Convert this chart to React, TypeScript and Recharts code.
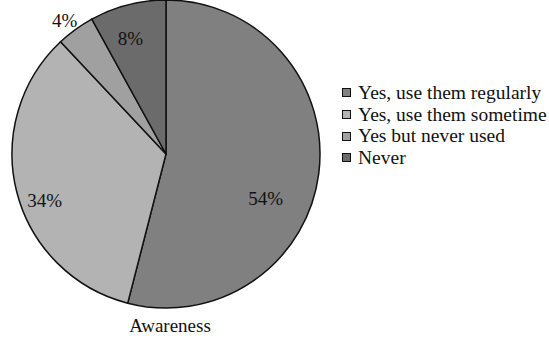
import React from "react";
import { PieChart, Pie, Cell, Legend } from "recharts";

const categories = ["Yes, use them regularly", "Yes, use them sometime", "Yes but never used", "Never"];
const values = [54, 34, 4, 8];
const colors = ["#808080", "#b3b3b3", "#a0a0a0", "#6b6b6b"];
const title = "Awareness";

const data = categories.map((name, i) => ({ name, value: values[i] }));

const labelRadius = [0.707, 0.845, 1.086, 0.784];
const labelAngleShift = [-16.7, 6.7, 1.3, 2.7];
const FONT = '"Liberation Serif", "Times New Roman", serif';

const RADIAN = Math.PI / 180;
const renderLabel = (props: any) => {
  const { cx, cy, midAngle, outerRadius, index, value } = props;
  const a = (midAngle + labelAngleShift[index]) * RADIAN;
  const r = outerRadius * labelRadius[index];
  const x = cx + r * Math.cos(a);
  const y = cy - r * Math.sin(a);
  return (
    <text
      x={x}
      y={y}
      textAnchor="middle"
      dominantBaseline="central"
      fill="#111"
      fontSize={19}
      fontFamily={FONT}
    >
      {`${value}%`}
    </text>
  );
};

const LegendContent = () => (
  <div style={{ fontFamily: FONT, fontSize: 19.5, color: "#111", whiteSpace: "nowrap" }}>
    {data.map((d, i) => (
      <div key={d.name} style={{ display: "flex", alignItems: "center", height: 21.7 }}>
        <span
          style={{
            display: "inline-block",
            flex: "none",
            width: 7,
            height: 7,
            background: colors[i],
            border: "1.5px solid #111",
            marginRight: 7,
          }}
        />
        <span>{d.name}</span>
      </div>
    ))}
  </div>
);

export default function App() {
  return (
    <div style={{ position: "absolute", left: 0, top: 0, width: 549, height: 339, background: "#fff", overflow: "hidden" }}>
      <PieChart width={549} height={339} margin={{ top: 0, right: 0, bottom: 0, left: 0 }}>
        <Pie
          data={data}
          dataKey="value"
          nameKey="name"
          cx={166}
          cy={154}
          outerRadius={154}
          startAngle={90}
          endAngle={-270}
          stroke="#111"
          strokeWidth={1.5}
          label={renderLabel}
          labelLine={false}
          isAnimationActive={false}
        >
          {data.map((d, i) => (
            <Cell key={d.name} fill={colors[i]} />
          ))}
        </Pie>
        <Legend
          layout="vertical"
          content={<LegendContent />}
          wrapperStyle={{ position: "absolute", left: 342, top: 82, width: 230 }}
        />
      </PieChart>
      <div
        style={{
          position: "absolute",
          left: 70,
          width: 200,
          top: 315,
          textAlign: "center",
          fontFamily: FONT,
          fontSize: 19,
          color: "#111",
        }}
      >
        {title}
      </div>
    </div>
  );
}
